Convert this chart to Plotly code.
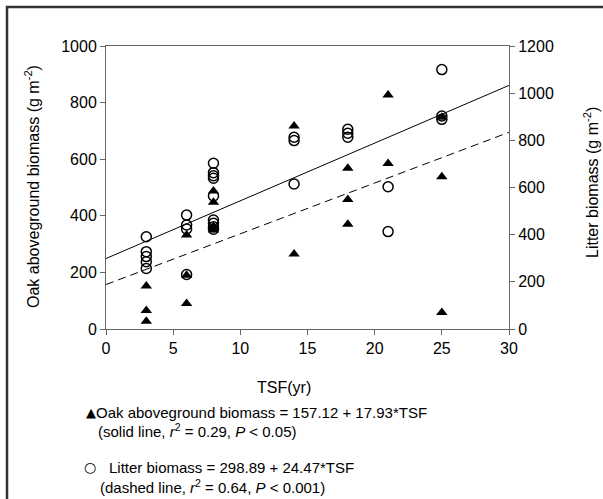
import plotly.graph_objects as go

# ---- data ----
oak_tsf = [3, 3, 3, 6, 6, 6, 8, 8, 8, 8, 14, 14, 18, 18, 18, 21, 21, 25, 25, 25]
oak_biomass = [152, 65, 27, 332, 190, 90, 488, 448, 362, 350, 717, 265,
               568, 458, 370, 827, 585, 748, 538, 58]

litter_tsf = [3, 3, 3, 3, 3, 6, 6, 6, 6, 8, 8, 8, 8, 8, 8, 8, 8, 8,
              14, 14, 14, 18, 18, 18, 21, 21, 25, 25, 25]
litter_biomass = [391, 328, 307, 285, 257, 483, 441, 424, 231,
                  703, 663, 650, 639, 564, 462, 448, 434, 423,
                  813, 799, 615, 847, 830, 813, 603, 413, 1100, 903, 889]

line_x = [0, 30]
# regression coefficients as printed in the legend
litter_fit = (298.89, 24.47)   # drawn solid, right axis
oak_fit = (157.12, 17.93)      # drawn dashed, left axis

x_ticks = [0, 5, 10, 15, 20, 25, 30]
left_ticks = [0, 200, 400, 600, 800, 1000]
right_ticks = [0, 200, 400, 600, 800, 1000, 1200]

FONT = "Liberation Sans, Arial, sans-serif"
AX = "#666666"

fig = go.Figure()

fig.add_trace(go.Scatter(
    x=line_x, y=[litter_fit[0] + litter_fit[1] * v for v in line_x],
    mode="lines", line=dict(color="black", width=1), yaxis="y2",
    showlegend=False, hoverinfo="skip"))
fig.add_trace(go.Scatter(
    x=line_x, y=[oak_fit[0] + oak_fit[1] * v for v in line_x],
    mode="lines", line=dict(color="black", width=1, dash="8px,5px"),
    showlegend=False, hoverinfo="skip"))

fig.add_trace(go.Scatter(
    x=litter_tsf, y=litter_biomass, mode="markers", yaxis="y2",
    marker=dict(symbol="circle-open", size=10, color="black",
                line=dict(width=1.5, color="black")),
    showlegend=False))
fig.add_trace(go.Scatter(
    x=oak_tsf, y=oak_biomass, mode="markers",
    marker=dict(symbol="triangle-up", size=10, color="black"),
    showlegend=False))

PL, PR, PT, PB = 106, 509, 46, 329
W, H = 603, 499


def px(x):
    return (x - PL) / (PR - PL)


def py(y):
    return (PB - y) / (PB - PT)


tick_font = dict(family=FONT, size=16, color="black")

fig.update_layout(
    width=W, height=H,
    margin=dict(l=PL, r=W - PR, t=PT, b=H - PB),
    paper_bgcolor="white", plot_bgcolor="white",
    font=dict(family=FONT, size=16, color="black"),
    xaxis=dict(range=[0, 30], tickvals=x_ticks, ticks="outside", ticklen=5,
               tickcolor=AX, showline=True, linecolor=AX, linewidth=1,
               mirror=True, showgrid=False, zeroline=False,
               tickfont=tick_font),
    yaxis=dict(range=[0, 1000], tickvals=left_ticks, ticks="outside",
               ticklen=5, tickcolor=AX, showline=True, linecolor=AX,
               linewidth=1, showgrid=False, zeroline=False,
               tickfont=tick_font),
    yaxis2=dict(range=[0, 1200], tickvals=right_ticks, ticks="outside",
                ticklen=5, tickcolor=AX, showline=True, linecolor=AX,
                linewidth=1, showgrid=False, zeroline=False,
                overlaying="y", side="right", tickfont=tick_font),
)

ann_font = dict(family=FONT, size=16, color="black")
leg_font = dict(family=FONT, size=15, color="black")
anns = [
    dict(x=px(284), y=py(387), text="TSF(yr)", font=ann_font,
         xanchor="center", yanchor="middle"),
    dict(x=px(32), y=py(187), text="Oak aboveground biomass (g m<sup>-2</sup>)",
         textangle=-90, font=ann_font, xanchor="center", yanchor="middle"),
    dict(x=px(591), y=py(183), text="Litter biomass (g m<sup>-2</sup>)",
         textangle=-90, font=ann_font, xanchor="center", yanchor="middle"),
    dict(x=px(84), y=py(413), text="▲", font=dict(family="DejaVu Sans", size=13, color="black"),
         xanchor="left", yanchor="middle"),
    dict(x=px(94), y=py(413), text="Oak aboveground biomass = 157.12 + 17.93*TSF",
         font=leg_font, xanchor="left", yanchor="middle"),
    dict(x=px(96), y=py(431),
         text="(solid line, <i>r</i><sup>2</sup> = 0.29, <i>P</i> < 0.05)",
         font=leg_font, xanchor="left", yanchor="middle"),
    dict(x=px(82), y=py(467), text="○", font=dict(family="DejaVu Sans", size=14, color="black"),
         xanchor="left", yanchor="middle"),
    dict(x=px(107), y=py(467), text="Litter biomass = 298.89 + 24.47*TSF",
         font=leg_font, xanchor="left", yanchor="middle"),
    dict(x=px(98), y=py(486),
         text="(dashed line, <i>r</i><sup>2</sup> = 0.64, <i>P</i> < 0.001)",
         font=leg_font, xanchor="left", yanchor="middle"),
]
for a in anns:
    a.update(xref="paper", yref="paper", showarrow=False)
fig.update_layout(annotations=anns)

# outer frame (cut off at right and bottom in the reference)
fig.add_shape(type="rect", xref="paper", yref="paper",
              x0=px(7), x1=px(640), y0=py(540), y1=py(7),
              line=dict(color="#333333", width=2.5), fillcolor="rgba(0,0,0,0)",
              layer="above")

fig.write_html("out.html",
               config={"displayModeBar": False},
               post_script="document.body.style.margin='0';"
                           "document.body.style.padding='0';")
